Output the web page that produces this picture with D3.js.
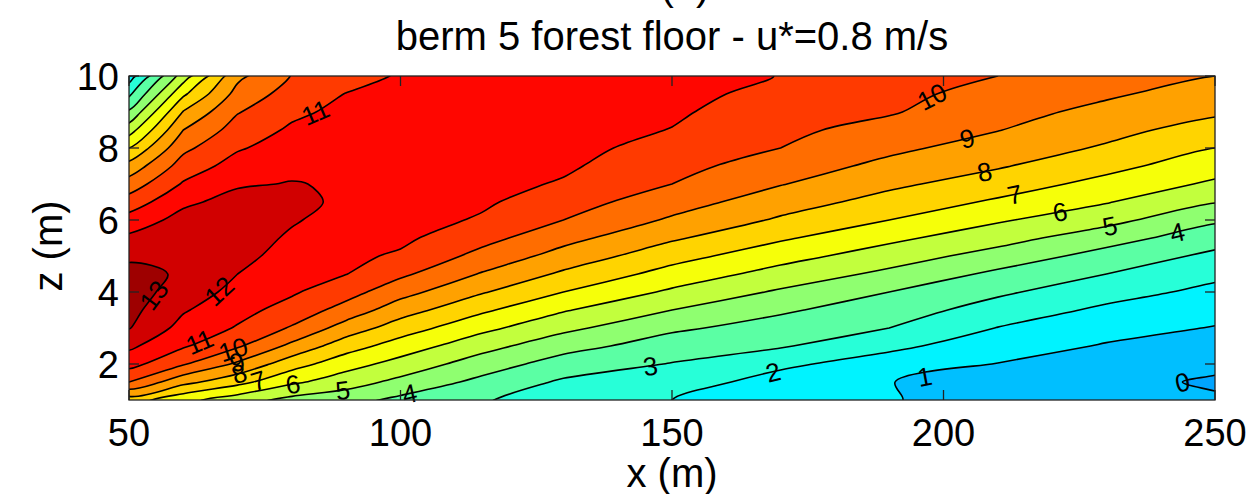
<!DOCTYPE html>
<html><head><meta charset="utf-8">
<script src="https://cdn.jsdelivr.net/npm/d3@7"></script>
<style>body{margin:0;background:#fff} text{font-family:"Liberation Sans",Arial,sans-serif}</style>
</head><body>
<svg id="c" width="1254" height="494"></svg>
<script>
// ---------------- data ----------------
const xCols = [50,60,70,80,90,100,115,130,150,170,190,210,230,250];
const zRows = [1,1.5,2,2.5,3,3.5,4,4.5,5,5.5,6,6.5,7,7.5,8,8.5,9,9.5,10];
// one array per x column, values from z=1 (bottom) to z=10 (top)
const col050 = [7.5,10.0,11.36,12.2,13.05,13.3,13.4,13.25,12.86,12.2,11.4,10.45,9.45,8.36,7.0,5.55,4.15,2.8,1.5];
const col060 = [6.3,8.31,10.09,11.11,11.65,12.1,12.6,12.9,12.92,12.75,12.35,11.8,11.1,10.44,9.76,9.0,8.06,6.82,5.5];
const col070 = [5.45,7.33,8.83,10.13,10.92,11.31,11.66,12.0,12.3,12.5,12.6,12.35,11.88,11.4,10.9,10.43,9.94,9.35,8.76];
const col080 = [4.7,6.19,7.43,8.75,9.89,10.64,11.12,11.37,11.61,11.85,12.1,12.3,12.05,11.75,11.45,11.15,10.8,10.42,10.04];
const col090 = [4.38,5.45,6.4,7.44,8.56,9.6,10.4,11.02,11.2,11.4,11.6,11.78,11.88,11.8,11.65,11.45,11.25,11.03,10.6];
const col100 = [3.75,4.73,5.64,6.55,7.5,8.45,9.36,10.2,10.87,11.2,11.4,11.55,11.7,11.8,11.85,11.8,11.65,11.4,11.1];
const col115 = [3.07,3.73,4.5,5.36,6.27,7.18,8.09,8.92,9.69,10.33,10.89,11.15,11.3,11.42,11.5,11.55,11.58,11.58,11.55];
const col130 = [2.6,2.85,3.57,4.36,5.25,6.09,7.0,7.83,8.62,9.33,10.0,10.45,10.91,11.15,11.3,11.42,11.5,11.56,11.6];
const col150 = [2.0,2.48,2.95,3.53,4.17,5.0,5.83,6.62,7.38,8.14,8.86,9.44,10.0,10.32,10.65,10.97,11.15,11.3,11.45];
const col170 = [1.4,1.6,2.2,3.1,3.6,4.14,4.86,5.62,6.38,7.14,7.86,8.47,9.05,9.52,10.0,10.22,10.43,10.7,10.97];
const col190 = [1.08,1.02,1.53,2.23,3.0,3.5,4.0,4.77,5.5,6.23,7.0,7.63,8.21,8.74,9.22,9.65,10.09,10.25,10.4];
const col210 = [0.45,0.65,0.97,1.47,1.97,2.57,3.17,3.79,4.6,5.4,6.12,6.85,7.5,8.1,8.57,9.03,9.35,9.68,10.0];
const col230 = [0.3,0.35,0.6,0.92,1.35,1.81,2.38,3.0,3.63,4.42,5.33,6.06,6.69,7.29,7.88,8.31,8.73,9.14,9.55];
const col250 = [0.15,-0.15,0.25,0.6,0.95,1.34,1.75,2.22,2.78,3.42,4.15,5.05,5.83,6.44,7.0,7.58,8.16,8.56,9.0];
const levels = [0,1,2,3,4,5,6,7,8,9,10,11,12,13];
const xTicks = [50,100,150,200,250];
const zTicks = [2,4,6,8,10];
// contour labels: level, x (m), z (m)
const labelLevel = [13,12,11,11,10,9,8,7,6,5,4,3,2,1,10,9,8,7,6,5,4,0];
const labelX     = [55.3,66.4,83.9,63.1,69.2,69.9,70.4,73.8,80.2,89.4,101.7,146.1,168.6,196.6,198.4,204.5,207.6,213.2,221.5,230.7,243.2,243.6];
const labelZ     = [3.83,4.06,9.14,2.58,2.39,2.06,1.69,1.56,1.42,1.22,1.14,1.86,1.78,1.61,9.28,8.19,7.31,6.64,6.19,5.78,5.56,1.39];
const titleText = "berm 5 forest floor - u*=0.8 m/s";

// ---------------- drawing ----------------
const svg = d3.select("#c");
const M = {left:129, right:1215, top:76, bottom:400};
const x = d3.scaleLinear().domain([50,250]).range([M.left,M.right]);
const y = d3.scaleLinear().domain([1,10]).range([M.bottom,M.top]);

const cols = [col050,col060,col070,col080,col090,col100,col115,col130,col150,col170,col190,col210,col230,col250];
const nx = xCols.length, ny = zRows.length;
const grid = new Array(nx*ny);
for (let j=0;j<ny;j++) for (let i=0;i<nx;i++) grid[j*nx+i] = cols[i][j];
const ix = d3.scaleLinear().domain(d3.range(nx)).range(xCols);
const iz = d3.scaleLinear().domain(d3.range(ny)).range(zRows);
const contours = d3.contours().size([nx,ny]).thresholds(levels)(grid);
const toPx = p => [x(ix(p[0]-0.5)), y(iz(p[1]-0.5))];
const ringLine = d3.line().curve(d3.curveCatmullRomClosed.alpha(0.5));
const pathOf = c => c.coordinates.map(poly => poly.map(ring => ringLine(ring.slice(0,-1).map(toPx))).join("")).join("");

function jet(t){
  const c = v => Math.max(0, Math.min(1, v));
  const r = c(1.5-Math.abs(4*t-3)), g = c(1.5-Math.abs(4*t-2)), b = c(1.5-Math.abs(4*t-1));
  return d3.rgb(r*255,g*255,b*255).formatHex();
}
const bandColor = k => jet(0.3125 + 0.0506*k);

svg.append("defs").append("clipPath").attr("id","plot")
  .append("rect").attr("x",M.left).attr("y",M.top).attr("width",M.right-M.left).attr("height",M.bottom-M.top);
const g = svg.append("g").attr("clip-path","url(#plot)");
g.append("rect").attr("x",M.left).attr("y",M.top).attr("width",M.right-M.left).attr("height",M.bottom-M.top)
  .attr("fill", "#00a4ff");
g.selectAll("path.fill").data(contours).join("path").attr("class","fill")
  .attr("d", pathOf).attr("fill", d=>bandColor(d.value)).attr("stroke","none");
g.selectAll("path.line").data(contours).join("path").attr("class","line")
  .attr("d", pathOf).attr("fill","none").attr("stroke","#000").attr("stroke-width",1.6).attr("stroke-linejoin","round");

// labels snapped onto their contour
function snap(level, px, py){
  const c = contours.find(c=>c.value===level);
  let best=null, bd=Infinity;
  c.coordinates.forEach(poly=>poly.forEach(ring=>{
    const pts = ring.map(toPx);
    for (let i=0;i<pts.length-1;i++){
      const a=pts[i], b=pts[i+1];
      const dx=b[0]-a[0], dy=b[1]-a[1], L=dx*dx+dy*dy;
      let t = L? ((px-a[0])*dx+(py-a[1])*dy)/L : 0; t=Math.max(0,Math.min(1,t));
      const qx=a[0]+t*dx, qy=a[1]+t*dy, d=(qx-px)**2+(qy-py)**2;
      if (d<bd){ bd=d; best={x:qx,y:qy,ang:Math.atan2(dy,dx)*180/Math.PI}; }
    }
  }));
  let a = best.ang; if (a>90) a-=180; if (a<-90) a+=180;
  best.ang=a; return best;
}
const lab = svg.append("g");
labelLevel.forEach((lv,i)=>{
  const p = snap(lv, x(labelX[i]), y(labelZ[i]));
  lab.append("text").attr("transform",`translate(${p.x},${p.y}) rotate(${p.ang})`)
    .attr("text-anchor","middle").attr("dy","0.36em").attr("font-size",26).attr("fill","#000").text(lv);
});

// axes box and ticks (inward, mirrored)
const ax = svg.append("g").attr("stroke","#222").attr("stroke-width",1.3);
ax.append("rect").attr("x",M.left).attr("y",M.top).attr("width",M.right-M.left).attr("height",M.bottom-M.top).attr("fill","none");
xTicks.forEach(v=>{
  ax.append("line").attr("x1",x(v)).attr("x2",x(v)).attr("y1",M.bottom).attr("y2",M.bottom-10);
  ax.append("line").attr("x1",x(v)).attr("x2",x(v)).attr("y1",M.top).attr("y2",M.top+10);
});
zTicks.forEach(v=>{
  ax.append("line").attr("x1",M.left).attr("x2",M.left+10).attr("y1",y(v)).attr("y2",y(v));
  ax.append("line").attr("x1",M.right).attr("x2",M.right-10).attr("y1",y(v)).attr("y2",y(v));
});
const tl = svg.append("g").attr("font-size",38).attr("fill","#000");
xTicks.forEach(v=> tl.append("text").attr("x",x(v)).attr("y",446).attr("text-anchor","middle").text(v));
zTicks.forEach(v=> tl.append("text").attr("x",119).attr("y",y(v)).attr("dy","0.36em").attr("text-anchor","end").text(v));
svg.append("text").attr("x",672).attr("y",487).attr("text-anchor","middle").attr("font-size",40).text("x (m)");
svg.append("text").attr("transform","translate(62,246) rotate(-90)").attr("text-anchor","middle").attr("font-size",40).text("z (m)");
svg.append("text").attr("x",672).attr("y",50).attr("text-anchor","middle").attr("font-size",40).text(titleText);
svg.append("text").attr("x",685).attr("y",0).attr("text-anchor","middle").attr("font-size",40).text("(b)");
</script>
</body></html>
